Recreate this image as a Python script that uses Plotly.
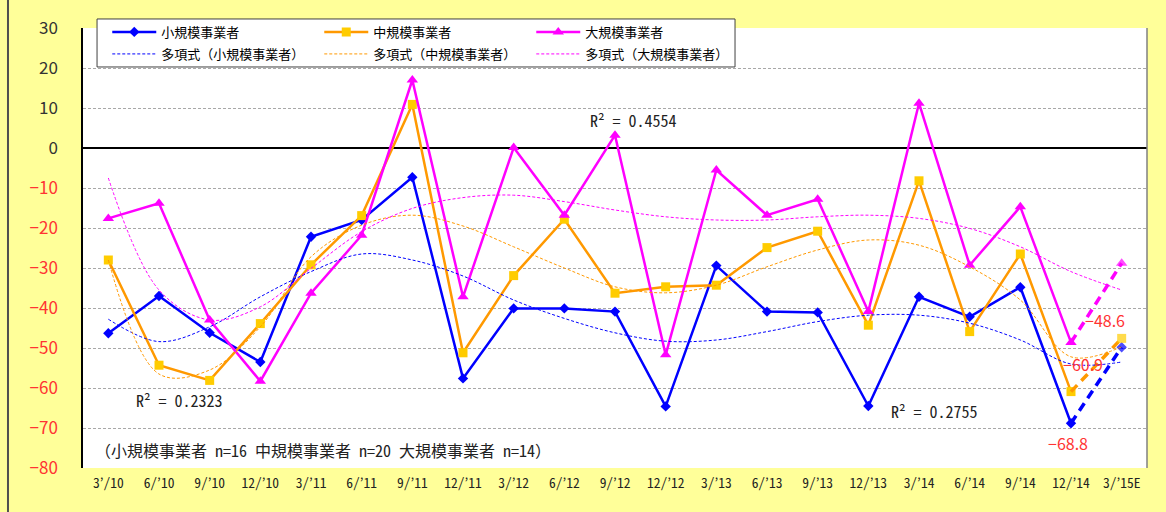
import plotly.graph_objects as go

cats = ["3’/10", "6/’10", "9/’10", "12/’10", "3/’11", "6/’11", "9/’11", "12/’11",
        "3/’12", "6/’12", "9/’12", "12/’12", "3/’13", "6/’13", "9/’13", "12/’13",
        "3/’14", "6/’14", "9/’14", "12/’14", "3/’15E"]

small = [-46.3, -37.0, -46.2, -53.5, -22.2, -18.0, -7.3, -57.6, -40.1, -40.1, -40.9,
         -64.6, -29.4, -40.9, -41.1, -64.5, -37.2, -42.2, -34.8, -68.8, -49.8]
medium = [-28.0, -54.3, -58.1, -43.9, -29.2, -16.9, 10.9, -51.2, -31.9, -17.8, -36.3,
          -34.7, -34.3, -24.9, -20.8, -44.3, -8.2, -45.9, -26.5, -60.9, -47.6]
large = [-17.6, -13.8, -43.0, -58.3, -36.3, -21.8, 17.0, -37.2, 0.1, -16.8, 3.2,
         -51.7, -5.5, -16.8, -12.8, -40.9, 11.2, -29.3, -14.7, -48.6, -28.8]

# polynomial trend lines
small_trend = [-42.8, -48.4, -44.7, -37.2, -30.9, -26.5, -28.0, -32.0, -38.0, -42.6, -46.2,
               -48.3, -48.0, -45.9, -43.4, -41.8, -41.8, -43.8, -48.0, -54.0, -53.5]
medium_trend = [-28.0, -56.5, -55.5, -44.7, -27.2, -19.3, -16.8, -19.5, -24.7, -30.0, -34.7,
                -36.2, -34.3, -29.7, -25.5, -23.0, -24.3, -29.7, -38.0, -52.2, -49.7]
large_trend = [-7.5, -35.5, -43.0, -39.7, -30.1, -20.9, -15.1, -12.4, -11.8, -13.4, -15.5,
               -17.2, -18.0, -18.0, -17.2, -16.8, -17.6, -20.1, -24.7, -30.9, -35.5]

names = ["小規模事業者", "中規模事業者", "大規模事業者"]
trend_names = ["多項式（小規模事業者）", "多項式（中規模事業者）", "多項式（大規模事業者）"]
r2_labels = ["R² = 0.2323", "R² = 0.4554", "R² = 0.2755"]
last_labels = ["−68.8", "−60.9", "−48.6"]
note = "（小規模事業者 n=16 中規模事業者 n=20 大規模事業者 n=14）"

y_tick_vals = [30, 20, 10, 0, -10, -20, -30, -40, -50, -60, -70, -80]
y_tick_text = ["30", "20", "10", "0", "−10", "−20", "−30", "−40", "−50", "−60", "−70", "−80"]

FONT = "Noto Sans CJK JP"
MONO = "Noto Sans Mono CJK JP, Noto Sans CJK JP"
RED = "#FF3333"

x = list(range(len(cats)))
n_solid = len(cats) - 1

series = [
    (small, small_trend, "#0000FF", "#0000FF", "diamond", 8),
    (medium, medium_trend, "#FF9900", "#FFCC00", "square", 9),
    (large, large_trend, "#FF00FF", "#FF00FF", "triangle-up", 10),
]

fig = go.Figure()

# main series (solid up to 12/'14)
for (vals, tr, lc, mc, sym, ms), nm in zip(series, names):
    fig.add_trace(go.Scatter(
        x=x[:n_solid], y=vals[:n_solid], name=nm, mode="lines+markers",
        line=dict(color=lc, width=2.5),
        marker=dict(color=mc, symbol=sym, size=ms, line=dict(width=0)),
        legend="legend", hoverinfo="x+y"))

# forecast segment (dashed)
for (vals, tr, lc, mc, sym, ms), nm in zip(series, names):
    fig.add_trace(go.Scatter(
        x=x[n_solid - 1:], y=vals[n_solid - 1:], name=nm, mode="lines+markers",
        line=dict(color=lc, width=3.5, dash="9px,6px"),
        marker=dict(color=mc, symbol=sym, size=[0, ms], line=dict(width=0)),
        showlegend=False, legend="legend"))

# trend lines
for (vals, tr, lc, mc, sym, ms), nm in zip(series, trend_names):
    fig.add_trace(go.Scatter(
        x=x, y=tr, name=nm, mode="lines",
        line=dict(color=lc, width=1, dash="3px,2px", shape="spline", smoothing=1.0),
        legend="legend2"))

# R² labels
for txt, px, py in zip(r2_labels, [1.4, 10.37, 16.3], [-63, 7, -65.8]):
    fig.add_annotation(x=px, y=py, xref="x", yref="y", text=txt, showarrow=False,
                       font=dict(family=MONO, size=16, color="#222222"))

# forecast value labels
for txt, px, py in zip(last_labels, [18.94, 19.24, 19.67], [-73.8, -54.0, -43.0]):
    fig.add_annotation(x=px, y=py, xref="x", yref="y", text=txt, showarrow=False,
                       font=dict(family=FONT, size=16, color=RED))

fig.add_annotation(x=-0.3, y=-75.5, xref="x", yref="y", text=note, showarrow=False,
                   xanchor="left", font=dict(family=MONO, size=16, color="#222222"))

ytext = [t if v >= 0 else f"<span style='color:{RED}'>{t}</span>" for v, t in zip(y_tick_vals, y_tick_text)]

fig.update_layout(
    width=1166, height=512,
    margin=dict(l=83, r=19, t=28, b=44),
    paper_bgcolor="#FFFF99", plot_bgcolor="white",
    font=dict(family=FONT, color="#222222"),
    xaxis=dict(range=[-0.5, len(cats) - 0.5], tickvals=x, ticktext=cats,
               showgrid=False, zeroline=False, ticks="", showline=False,
               ticklabelstandoff=5,
               tickfont=dict(family=MONO, size=13.5, color="#222222")),
    xaxis2=dict(range=[-0.5, len(cats) - 0.5], overlaying="x", anchor="free",
                position=(0 - (-80)) / (30 - (-80)), side="top",
                tickvals=[i + 0.5 for i in x[:-1]], ticks="outside", ticklen=4,
                tickcolor="black", tickwidth=1, showticklabels=False,
                showgrid=False, zeroline=False, showline=False),
    yaxis=dict(range=[-80, 30], tickvals=y_tick_vals, ticktext=ytext,
               showgrid=True, gridcolor="#A8A8A8", griddash="3px,2px", gridwidth=1,
               zeroline=True, zerolinecolor="black", zerolinewidth=2,
               showline=True, linecolor="black", linewidth=1.5, ticks="",
               ticklabelstandoff=20,
               tickfont=dict(family=FONT, size=17, color="#333333")),
    legend=dict(orientation="h", x=0.0228, y=0.991, xanchor="left", yanchor="middle",
                bgcolor="rgba(0,0,0,0)", borderwidth=0, itemwidth=44, entrywidth=153,
                font=dict(family=FONT, size=13, color="#000000")),
    legend2=dict(orientation="h", x=0.0228, y=0.941, xanchor="left", yanchor="middle",
                 bgcolor="rgba(0,0,0,0)", borderwidth=0, itemwidth=44, entrywidth=153,
                 font=dict(family=FONT, size=13, color="#000000")),
    shapes=[
        dict(type="rect", xref="paper", yref="paper", x0=0.0132, x1=0.6128,
             y0=0.9114, y1=1.0205, fillcolor="white", line=dict(color="#404040", width=1),
             layer="above"),
        dict(type="line", xref="paper", yref="paper", x0=1, x1=1, y0=0, y1=1,
             line=dict(color="#808080", width=1.5)),
        dict(type="line", xref="paper", yref="paper", x0=-0.0705, x1=-0.0705,
             y0=-0.1, y1=1.0636, line=dict(color="#505050", width=2)),
    ],
)

fig.write_html("out.html", config={"displayModeBar": False},
               post_script="document.body.style.margin='0';document.body.style.overflow='hidden';")
